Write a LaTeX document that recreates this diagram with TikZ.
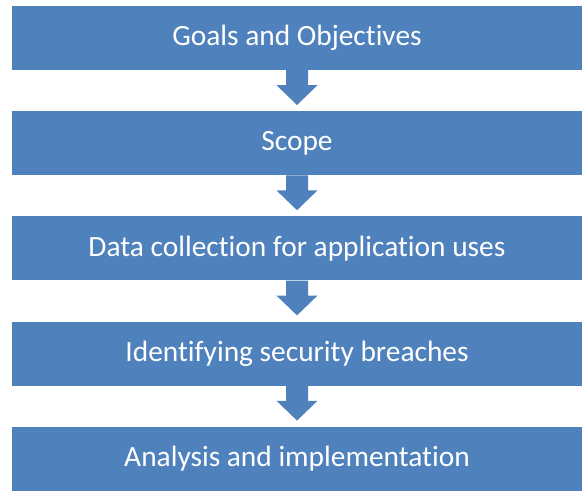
\documentclass[tikz,border=0pt]{standalone}
\usepackage{fontspec}
\setmainfont{Carlito}[Ligatures=NoCommon]
\usetikzlibrary{calc}
\definecolor{boxblue}{HTML}{4F81BD}
\begin{document}
\begin{tikzpicture}[x=1pt,y=-1pt,
  stepbox/.style={fill=boxblue, minimum width=570pt, minimum height=64pt,
    inner sep=0pt, text=white, font=\fontsize{29.4}{34}\selectfont},
  flowarrow/.style={fill=boxblue}]
\useasboundingbox (0,0) rectangle (582,492);
% process steps, top to bottom
\node[stepbox] (b1) at (297,38)    {Goals and Objectives};
\node[stepbox] (b2) at (297,143.2) {Scope};
\node[stepbox] (b3) at (297,248.4) {Data collection for application uses};
\node[stepbox] (b4) at (297,353.6) {Identifying security breaches};
\node[stepbox] (b5) at (297,458.8) {Analysis and implementation};
% block arrows between consecutive steps
\foreach \a/\b in {b1/b2,b2/b3,b3/b4,b4/b5}{
  \fill[flowarrow]
    ($(\a.south)+(-11,0)$) -- ($(\a.south)+(-11,15)$) -- ($(\a.south)+(-20.5,15)$)
    -- ($(\b.north)+(0,-6)$)
    -- ($(\a.south)+(20.5,15)$) -- ($(\a.south)+(11,15)$) -- ($(\a.south)+(11,0)$) -- cycle;
}
\end{tikzpicture}
\end{document}
